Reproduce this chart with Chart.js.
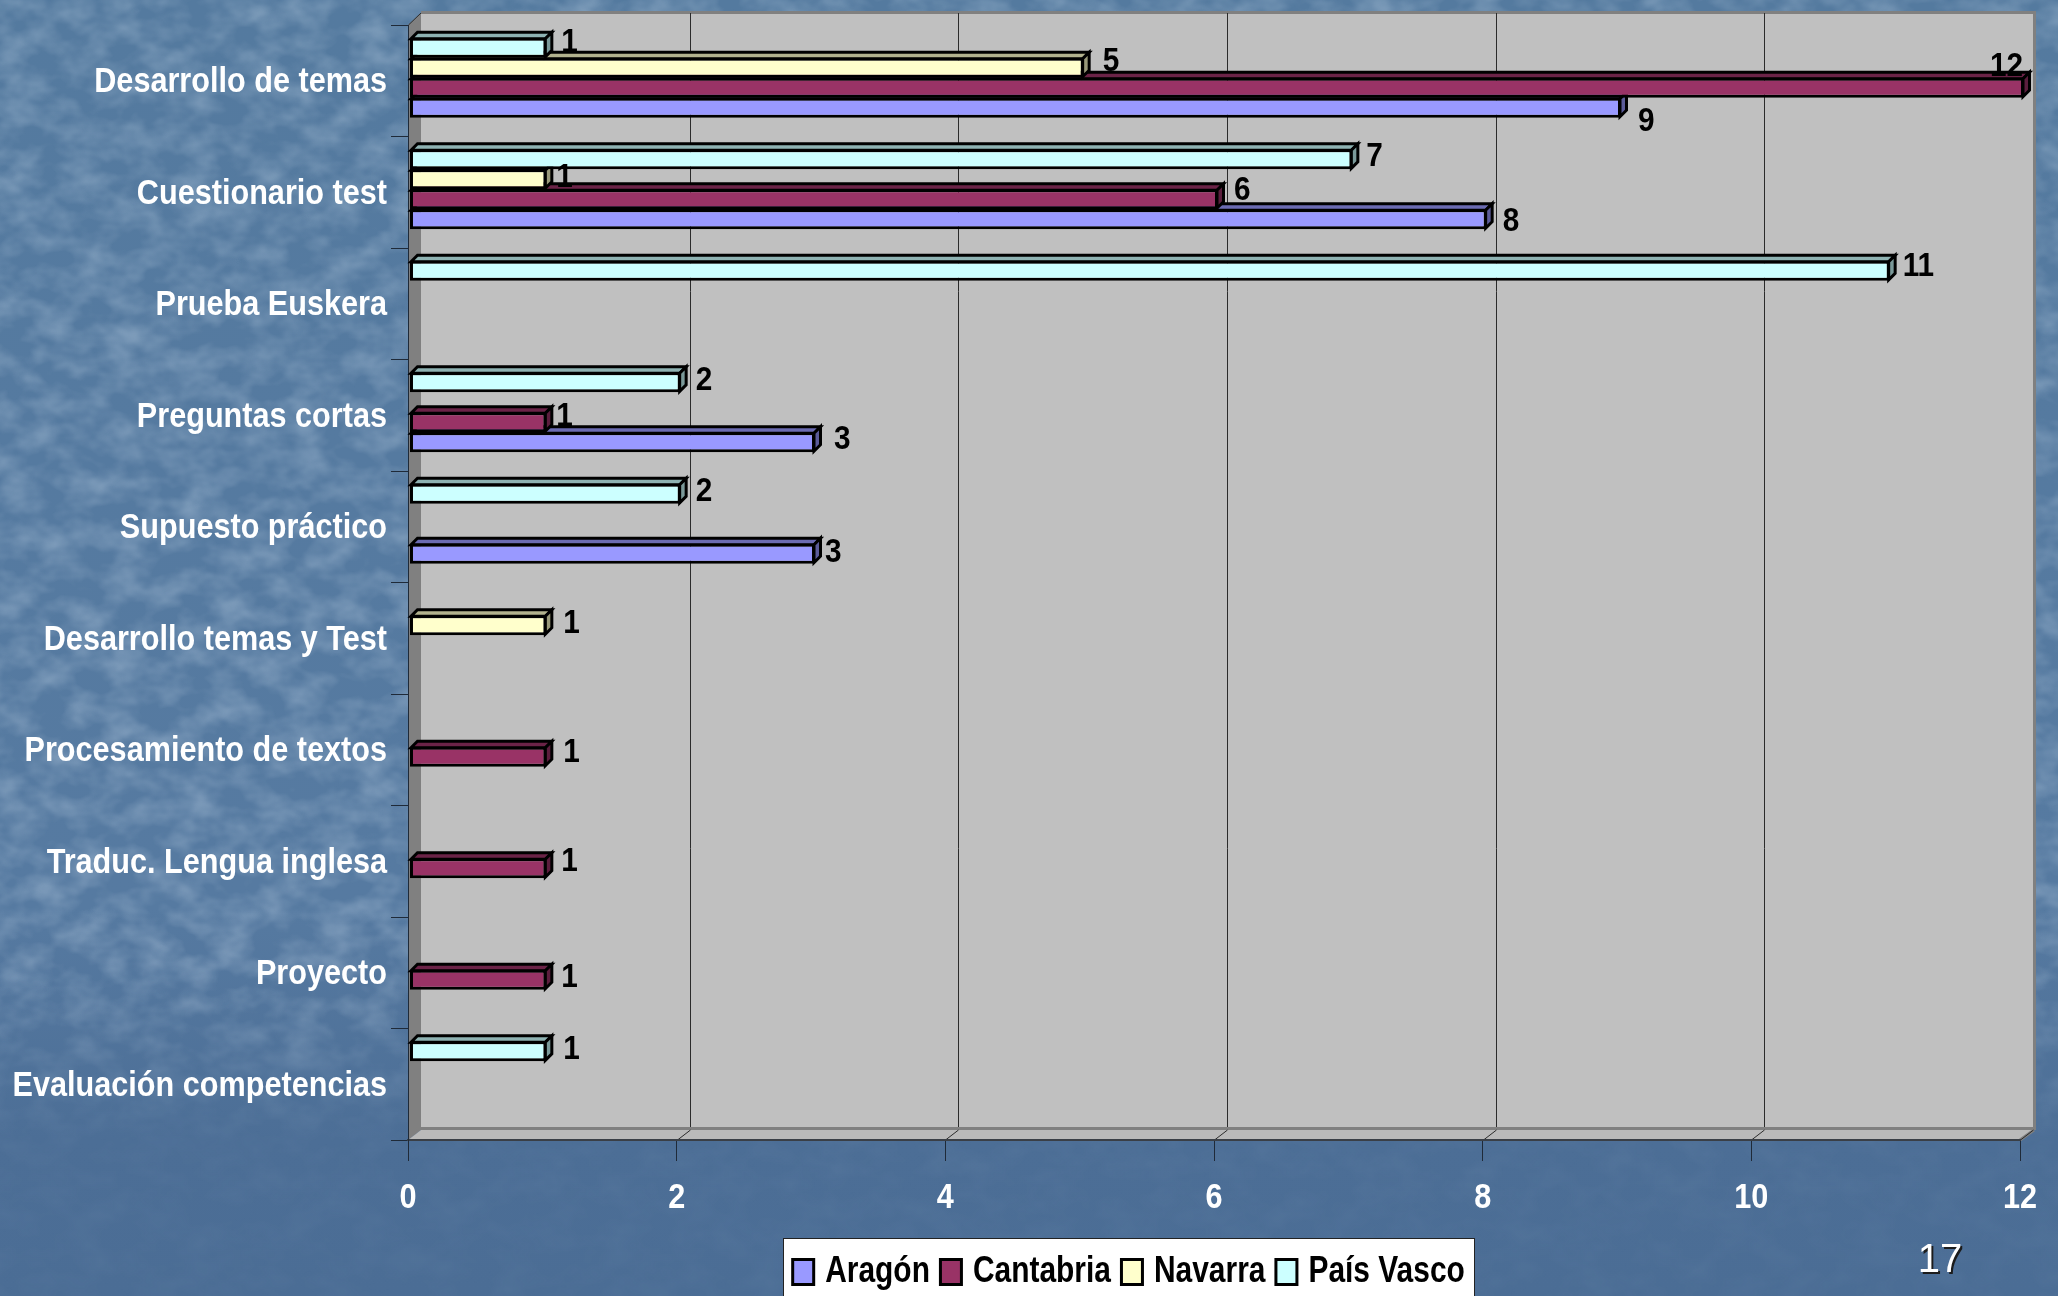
<!DOCTYPE html>
<html>
<head>
<meta charset="utf-8">
<script src="https://cdn.jsdelivr.net/npm/chart.js@4/dist/chart.umd.min.js"></script>
<style>
html,body{margin:0;padding:0;width:2058px;height:1296px;overflow:hidden;background:#4c6e96}
#bg{position:absolute;left:0;top:0;width:2058px;height:1296px;background:linear-gradient(#547a9f 0,#567aa1 70%,#4c6e96 88%,#4b6d95 100%)}
#tx{position:absolute;left:0;top:0;width:2058px;height:1296px;
-webkit-mask-image:linear-gradient(#000 0,#000 74%,rgba(0,0,0,.15) 88%,rgba(0,0,0,.12) 100%);
mask-image:linear-gradient(#000 0,#000 74%,rgba(0,0,0,.15) 88%,rgba(0,0,0,.12) 100%)}
#c{position:absolute;left:0;top:0}
</style>
</head>
<body>
<div id="bg"></div>
<svg id="tx" width="2058" height="1296" xmlns="http://www.w3.org/2000/svg">
<filter id="f" x="0" y="0" width="100%" height="100%">
<feTurbulence type="fractalNoise" baseFrequency="0.028 0.04" numOctaves="3" seed="7"/>
<feColorMatrix type="matrix" values="0 0 0 0 0.62  0 0 0 0 0.74  0 0 0 0 0.86  0.6 0 0 0 -0.21"/>
</filter>
<rect width="2058" height="1296" filter="url(#f)"/>
</svg>
<canvas id="c" width="2058" height="1296"></canvas>
<script>
const categories = ["Desarrollo de temas","Cuestionario test","Prueba Euskera","Preguntas cortas","Supuesto práctico","Desarrollo temas y Test","Procesamiento de textos","Traduc. Lengua inglesa","Proyecto","Evaluación competencias"];
const aragon    = [9,8,null,3,3,null,null,null,null,null];
const cantabria = [12,6,null,1,null,null,1,1,1,null];
const navarra   = [5,1,null,null,null,1,null,null,null,null];
const paisVasco = [1,7,11,2,2,null,null,null,null,1];
const seriesNames = ['Aragón','Cantabria','Navarra','País Vasco'];
const xTicksMax = 12, xTickStep = 2;
const pageNumber = "17";

const FONT = '"Liberation Sans",Arial,sans-serif';
const depthX = 13, depthTop = 12, depthBottom = 10, barDepth = 6.5, barNudgeX = 4, barNudgeY = -3;
const shade = (hex,k)=>{const n=parseInt(hex.slice(1),16);return `rgb(${((n>>16)&255)*k|0},${((n>>8)&255)*k|0},${(n&255)*k|0})`;};

// The original uses a condensed face, which is not installed: squeeze the text horizontally.
let squeeze = 0.875;
const legendSqueeze = 0.95, legendTextBack = 6.5, categoryTextDown = 2;
const canvas = document.getElementById('c');
const rawCtx = canvas.getContext('2d');
const origFill = rawCtx.fillText.bind(rawCtx), origMeasure = rawCtx.measureText.bind(rawCtx);
const factor = t => seriesNames.includes(t) ? squeeze*legendSqueeze : squeeze;
rawCtx.fillText = function(t,x,y,m){
  const k = factor(t);
  if(seriesNames.includes(t)) x -= legendTextBack;
  if(categories.includes(t)) y += categoryTextDown;
  rawCtx.save();rawCtx.translate(x,y);rawCtx.scale(k,1);
  if(m===undefined) origFill(t,0,0); else origFill(t,0,0,m/k);
  rawCtx.restore();
};
rawCtx.measureText = function(t){
  const r=origMeasure(t);
  return {width:r.width*factor(t),actualBoundingBoxAscent:r.actualBoundingBoxAscent,actualBoundingBoxDescent:r.actualBoundingBoxDescent};
};

// small per-label offsets, as the original's labels were placed by hand: [category, series] -> dx, dy
const labelNudge = {
  "0|Cantabria":[-52,-21], "0|Aragón":[-1,14], "0|País Vasco":[-3,-5], "0|Navarra":[1,-6],
  "1|Navarra":[-8,-2], "1|Cantabria":[-2,-9], "1|Aragón":[-2,2], "1|País Vasco":[-4,-3],
  "2|País Vasco":[-5,-4], "3|Cantabria":[-8,-6], "3|País Vasco":[-3,-2], "3|Aragón":[1,-3],
  "4|País Vasco":[-3,-2], "4|Aragón":[-8,-1], "5|Navarra":[-1,-2],
  "6|Cantabria":[-1,-4], "7|Cantabria":[-3,-7], "8|Cantabria":[-3,-2], "9|País Vasco":[-1,-2]
};

const walls = {
  id:'walls',
  beforeDraw(c){
    const {ctx,chartArea:a,scales:{x}} = c;
    const L=a.left,R=a.right,T=a.top,B=a.bottom;
    ctx.save();
    ctx.fillStyle='#c0c0c0';
    ctx.fillRect(L+depthX,T-depthTop,R-L,B-depthBottom-T+depthTop);
    ctx.fillStyle='#808080';
    ctx.beginPath();ctx.moveTo(L,T);ctx.lineTo(L+depthX,T-depthTop);ctx.lineTo(L+depthX,B-depthBottom);ctx.lineTo(L,B);ctx.closePath();ctx.fill();
    ctx.fillStyle='#bababa';
    ctx.beginPath();ctx.moveTo(L,B);ctx.lineTo(L+depthX,B-depthBottom);ctx.lineTo(R+depthX,B-depthBottom);ctx.lineTo(R,B);ctx.closePath();ctx.fill();
    ctx.fillStyle='#808080';
    ctx.fillRect(L+depthX,T-depthTop-2,R-L+2,3);
    ctx.fillRect(R+depthX,T-depthTop-2,3,B-depthBottom-T+depthTop+2);
    ctx.fillRect(L+depthX,B-depthBottom-3,R-L+3,3);
    ctx.strokeStyle='#808080';ctx.lineWidth=3;
    ctx.beginPath();ctx.moveTo(R+depthX+1,B-depthBottom);ctx.lineTo(R,B);ctx.stroke();
    ctx.strokeStyle='#2b2b2b';ctx.lineWidth=1;
    x.ticks.forEach(t=>{
      const px=Math.round(x.getPixelForValue(t.value))+.5;
      ctx.beginPath();
      if(t.value>0 && t.value<xTicksMax){ctx.moveTo(px+depthX,T-depthTop);ctx.lineTo(px+depthX,B-depthBottom-3);}
      if(t.value>0){ctx.moveTo(px+depthX,B-depthBottom);ctx.lineTo(px,B);}
      ctx.stroke();
    });
    ctx.beginPath();ctx.moveTo(L+.5,T);ctx.lineTo(L+depthX,T-depthTop);ctx.stroke();
    ctx.fillStyle='#fff';ctx.strokeStyle='#222';ctx.lineWidth=1;
    ctx.fillRect(783,1238,692,60);ctx.strokeRect(783.5,1238.5,691,60);
    ctx.restore();
  },
  afterLayout(c){
    const l=c.legend; if(!l) return;
    l.left+=122; l.right+=122; l.top+=4; l.bottom+=4;
  },
  beforeDatasetsDraw(c){
    const ctx=c.ctx;
    ctx.save();
    ctx.translate(barNudgeX,barNudgeY);
    ctx.lineWidth=3;ctx.strokeStyle='#000';ctx.lineJoin='miter';
    for(let i=c.data.datasets.length-1;i>=0;i--){
      const ds=c.data.datasets[i];
      c.getDatasetMeta(i).data.forEach((b,j)=>{
        if(ds.data[j]==null) return;
        const p=b.getProps(['x','y','base','height']);
        const x0=p.base+1,x1=p.x-1,y0=p.y-p.height/2+1,y1=p.y+p.height/2-1,d=barDepth;
        ctx.fillStyle=shade(ds.backgroundColor,.7);
        ctx.beginPath();ctx.moveTo(x0,y0);ctx.lineTo(x0+d,y0-d);ctx.lineTo(x1+d,y0-d);ctx.lineTo(x1,y0);ctx.closePath();ctx.fill();ctx.stroke();
        ctx.fillStyle=shade(ds.backgroundColor,.6);
        ctx.beginPath();ctx.moveTo(x1,y0);ctx.lineTo(x1+d,y0-d);ctx.lineTo(x1+d,y1-d);ctx.lineTo(x1,y1);ctx.closePath();ctx.fill();ctx.stroke();
      });
    }
    ctx.restore();
    ctx.save();
    ctx.translate(barNudgeX,barNudgeY);
  },
  afterDatasetsDraw(c){
    const ctx=c.ctx;
    ctx.restore();
    ctx.save();
    ctx.font='bold 34px '+FONT;ctx.fillStyle='#000';ctx.textAlign='left';ctx.textBaseline='middle';
    c.data.datasets.forEach((ds,i)=>{
      c.getDatasetMeta(i).data.forEach((b,j)=>{
        const v=ds.data[j]; if(v==null) return;
        const n=labelNudge[j+'|'+ds.label]||[0,0];
        const p=b.getProps(['x','y']);
        ctx.fillText(String(v),p.x+barNudgeX+18+n[0],p.y+barNudgeY+n[1]);
      });
    });
    ctx.restore();
  },
  afterDraw(c){
    const ctx=c.ctx;
    squeeze=1;
    ctx.save();
    ctx.font='40px "Liberation Sans",Arial,sans-serif';ctx.textAlign='center';ctx.textBaseline='middle';
    ctx.fillStyle='#1c1c1c';ctx.fillText(pageNumber,1942,1263);
    ctx.fillStyle='#fff';ctx.fillText(pageNumber,1940,1261);
    ctx.restore();
    squeeze=0.875;
  }
};

const series = [
  {label:seriesNames[3],data:paisVasco,backgroundColor:'#CCFFFF'},
  {label:seriesNames[2],data:navarra,backgroundColor:'#FFFFCC'},
  {label:seriesNames[1],data:cantabria,backgroundColor:'#993366'},
  {label:seriesNames[0],data:aragon,backgroundColor:'#9999FF'}
].map(s=>({...s,base:-0.015,borderColor:'#000',borderWidth:3,borderSkipped:false,barPercentage:1,categoryPercentage:.717,clip:false}));

new Chart(canvas,{
  type:'bar',
  data:{labels:categories,datasets:series},
  plugins:[walls],
  options:{
    indexAxis:'y',responsive:false,animation:false,devicePixelRatio:1,
    layout:{padding:{left:0,right:38,top:24,bottom:0}},
    plugins:{
      tooltip:{enabled:false},
      legend:{position:'bottom',reverse:true,
        labels:{color:'#000',font:{family:FONT,size:36,weight:'bold'},boxWidth:21,boxHeight:25,padding:4}}
    },
    scales:{
      x:{min:0,max:xTicksMax,
        afterFit(s){s.height=1296-1140-s.chart.legend.height;},
        ticks:{stepSize:xTickStep,color:'#fff',padding:16,maxRotation:0,font:{family:FONT,size:35,weight:'bold'}},
        grid:{drawOnChartArea:false,tickLength:21,tickColor:'#1f2a38',color:'#1f2a38'},
        border:{color:'#3a3f46',width:2}},
      y:{
        afterFit(s){s.width=408;},
        ticks:{autoSkip:false,color:'#fff',padding:4,font:{family:FONT,size:35,weight:'bold'}},
        grid:{drawOnChartArea:false,tickLength:17,tickColor:'#1f2a38',color:'#1f2a38'},
        border:{color:'#1f2a38',width:1}}
    }
  }
});
</script>
</body>
</html>
